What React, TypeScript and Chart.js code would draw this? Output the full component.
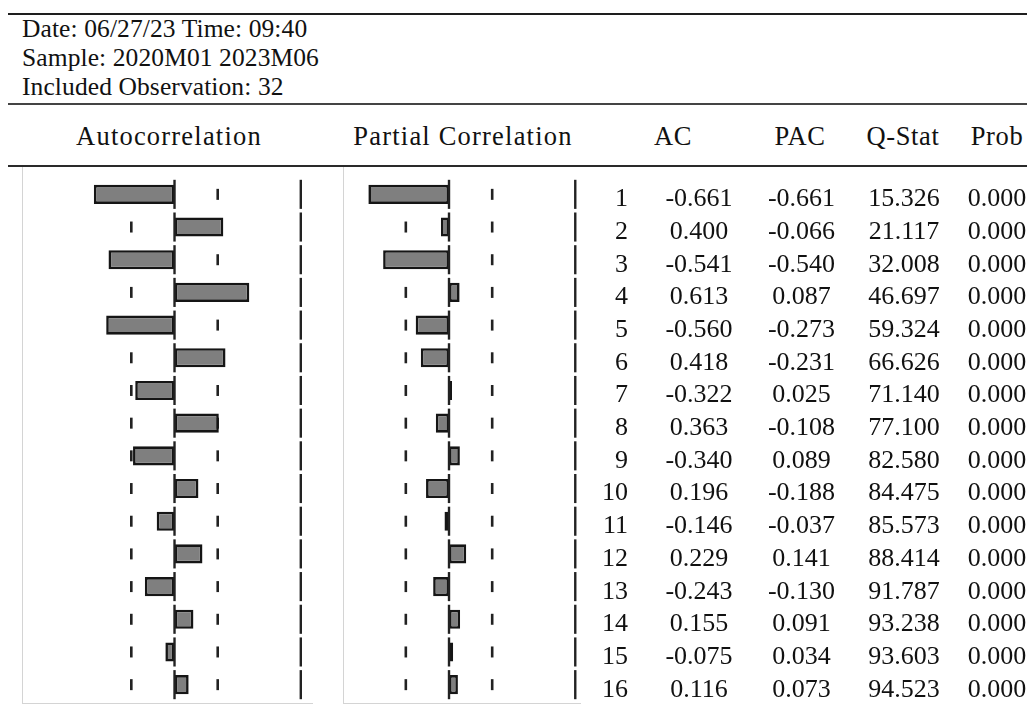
import React, { useEffect, useRef } from "react";
import { Chart, registerables } from "chart.js";

Chart.register(...registerables);

// ---------- data ----------
const LAGS = ["1", "2", "3", "4", "5", "6", "7", "8", "9", "10", "11", "12", "13", "14", "15", "16"];
const AC = [-0.661, 0.4, -0.541, 0.613, -0.56, 0.418, -0.322, 0.363, -0.34, 0.196, -0.146, 0.229, -0.243, 0.155, -0.075, 0.116];
const PAC = [-0.661, -0.066, -0.54, 0.087, -0.273, -0.231, 0.025, -0.108, 0.089, -0.188, -0.037, 0.141, -0.13, 0.091, 0.034, 0.073];
const QSTAT = [15.326, 21.117, 32.008, 46.697, 59.324, 66.626, 71.14, 77.1, 82.58, 84.475, 85.573, 88.414, 91.787, 93.238, 93.603, 94.523];
const PROB = [0, 0, 0, 0, 0, 0, 0, 0, 0, 0, 0, 0, 0, 0, 0, 0];
const HEADER_LINES = ["Date: 06/27/23 Time: 09:40", "Sample: 2020M01 2023M06", "Included Observation: 32"];
const PANEL_TITLES = ["Autocorrelation", "Partial Correlation"];
const COLUMN_TITLES = ["AC", "PAC", "Q-Stat", "Prob"];
const CONF_BAND = 0.354; // ± confidence band shown as short dashes
const EDGE_LINE = 1.035; // right-hand separator line

// ---------- layout / style ----------
const FONT = "'Liberation Serif', 'DejaVu Serif', serif";
const ROW_BASE0 = 207;
const ROW_PITCH = 32.69;

const guidePlugin = {
  id: "guides",
  beforeDatasetsDraw(chart: any) {
    const { ctx, scales } = chart;
    const x = scales.x;
    const y = scales.y;
    ctx.save();
    ctx.strokeStyle = "#222";
    ctx.lineWidth = 2.6;
    LAGS.forEach((_, i) => {
      const cy = y.getPixelForValue(i);
      [-CONF_BAND, CONF_BAND].forEach((v) => {
        const px = x.getPixelForValue(v);
        ctx.beginPath();
        ctx.moveTo(px, cy - 5.5);
        ctx.lineTo(px, cy + 5.5);
        ctx.stroke();
      });
    });
    ctx.restore();
  },
  afterDatasetsDraw(chart: any) {
    const { ctx, scales } = chart;
    const x = scales.x;
    const y = scales.y;
    const step = Math.abs(y.getPixelForValue(1) - y.getPixelForValue(0));
    const half = step / 2 - 1.8;
    ctx.save();
    ctx.strokeStyle = "#222";
    ctx.lineWidth = 2.4;
    LAGS.forEach((_, i) => {
      const cy = y.getPixelForValue(i);
      [0, EDGE_LINE].forEach((v) => {
        const px = x.getPixelForValue(v);
        ctx.beginPath();
        ctx.moveTo(px, cy - half);
        ctx.lineTo(px, cy + half);
        ctx.stroke();
      });
    });
    ctx.restore();
  },
};

function CorrChart({ values, min, max, left, width }: { values: number[]; min: number; max: number; left: number; width: number }) {
  const ref = useRef<HTMLCanvasElement>(null);
  useEffect(() => {
    if (!ref.current) return;
    const chart = new Chart(ref.current, {
      type: "bar",
      data: {
        labels: LAGS,
        datasets: [
          {
            data: values,
            backgroundColor: "#7f7f7f",
            borderColor: "#151515",
            borderWidth: 2.6,
            borderSkipped: false,
            barPercentage: 0.585,
            categoryPercentage: 1,
          },
        ],
      },
      options: {
        indexAxis: "y",
        animation: false,
        responsive: false,
        maintainAspectRatio: false,
        layout: { padding: { top: 12, bottom: 2, left: 0, right: 0 } },
        scales: {
          x: { min, max, display: false },
          y: { display: false },
        },
        plugins: { legend: { display: false }, tooltip: { enabled: false } },
      },
      plugins: [guidePlugin],
    } as any);
    return () => chart.destroy();
  }, [values, min, max]);
  return (
    <canvas
      ref={ref}
      width={width}
      height={537}
      style={{ position: "absolute", left, top: 166, width, height: 537 }}
    />
  );
}

function Text({ children, baseline, size, left, width, align, spacing }: any) {
  return (
    <div
      style={{
        position: "absolute",
        top: baseline - 0.8375 * size,
        left,
        width,
        fontSize: size,
        lineHeight: `${size}px`,
        textAlign: align,
        whiteSpace: "nowrap",
        letterSpacing: spacing || 0,
        color: "#111",
      }}
    >
      {children}
    </div>
  );
}

function HLine({ top, left, width, height, color }: any) {
  return <div style={{ position: "absolute", top, left, width, height, background: color }} />;
}

export default function App() {
  const headerBaselines = [37.3, 66.2, 95];
  const panelCenters = [169, 463];
  const colCenters = [673, 800, 903, 997];
  const valueCenters = [699, 801.5, 904, 997];
  return (
    <div
      style={{
        position: "absolute",
        left: 0,
        top: 0,
        width: 1027,
        height: 710,
        overflow: "hidden",
        background: "#fff",
        fontFamily: FONT,
      }}
    >
      <HLine top={12.5} left={8} width={1019} height={2} color="#1e1e1e" />
      {HEADER_LINES.map((t, i) => (
        <Text key={t} baseline={headerBaselines[i]} size={25.5} left={22} width={400} align="left" spacing={0.1}>
          {t}
        </Text>
      ))}
      <HLine top={103} left={8} width={1019} height={2} color="#444" />

      {PANEL_TITLES.map((t, i) => (
        <Text key={t} baseline={145} size={26.5} left={panelCenters[i] - 150} width={300} align="center" spacing={1.2}>
          {t}
        </Text>
      ))}
      {COLUMN_TITLES.map((t, i) => (
        <Text key={t} baseline={145} size={26.5} left={colCenters[i] - 60} width={120} align="center" spacing={0.6}>
          {t}
        </Text>
      ))}
      <HLine top={165} left={8} width={1019} height={2} color="#2a2a2a" />

      {/* panel frames */}
      <HLine top={167} left={22} width={1} height={536} color="#d4d4d4" />
      <HLine top={703} left={22} width={291} height={1} color="#d4d4d4" />
      <HLine top={167} left={343} width={1} height={536} color="#d4d4d4" />
      <HLine top={703} left={343} width={238} height={1} color="#d4d4d4" />

      <CorrChart values={AC} min={-1.25} max={1.135} left={22} width={291} />
      <CorrChart values={PAC} min={-0.869} max={1.082} left={343} width={238} />

      {LAGS.map((lag, i) => {
        const b = ROW_BASE0 + i * ROW_PITCH;
        const cells = [AC[i].toFixed(3), PAC[i].toFixed(3), QSTAT[i].toFixed(3), PROB[i].toFixed(3)];
        return (
          <React.Fragment key={lag}>
            <Text baseline={b} size={26} left={560} width={68} align="right">
              {lag}
            </Text>
            {cells.map((c, j) => (
              <Text key={j} baseline={b} size={26} left={valueCenters[j] - 50} width={100} align="center">
                {c}
              </Text>
            ))}
          </React.Fragment>
        );
      })}
    </div>
  );
}
